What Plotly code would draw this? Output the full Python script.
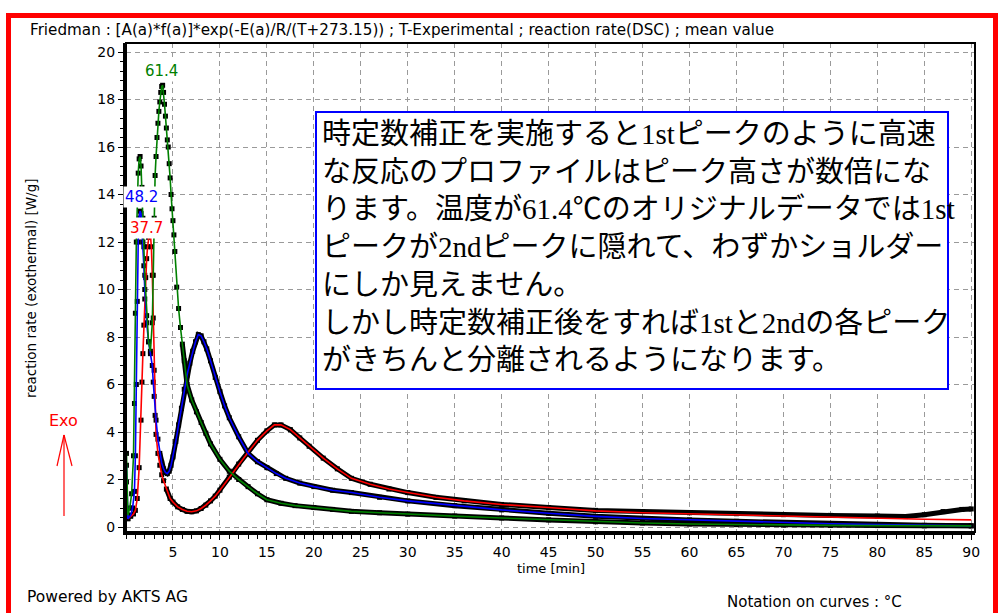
import numpy as np
import plotly.graph_objects as go

# ---------------- data ----------------
t_red = [0.05, 0.2, 0.5, 0.8, 1.0, 1.2, 1.4, 1.6, 1.7, 1.8,
         1.9, 2.0, 2.1, 2.2, 2.3, 2.4, 2.5, 2.6, 2.7, 2.8,
         2.9, 3.0, 3.1, 3.2, 3.4, 3.6, 3.8, 4.0, 4.3, 4.7,
         5.0, 5.5, 6.0, 6.5, 7.0, 7.5, 8.0, 8.5, 9.0, 9.5,
         10, 11, 12, 13, 14, 15, 15.8, 16.5, 17.5, 18.5,
         19.5, 21, 22.5, 24, 26, 28, 30, 33, 36, 40,
         45, 50, 55, 60, 65, 70, 75, 80, 85, 90]
red_v = [1.9, 0.35, 0.45, 0.55, 0.7, 1.2, 2.5, 4.5, 6.1, 7.3,
         8.5, 9.6, 10.5, 11.3, 11.8, 12.2, 12.4, 12.3, 11.8, 10.6,
         8.8, 6.6, 4.7, 3.9, 3.1, 2.6, 2.2, 1.95, 1.6, 1.2,
         1.05, 0.85, 0.74, 0.66, 0.64, 0.68, 0.78, 0.92, 1.1, 1.3,
         1.55, 2.1, 2.65, 3.15, 3.65, 4.05, 4.3, 4.3, 4.1, 3.75,
         3.4, 2.9, 2.45, 2.05, 1.8, 1.6, 1.45, 1.25, 1.1, 0.95,
         0.82, 0.68, 0.6, 0.55, 0.5, 0.45, 0.4, 0.37, 0.33, 0.3]
# experimental tail of the 37.7 °C curve (baseline drift)
red_exp_tail_t = [50, 55, 60, 65, 70, 75, 80, 83, 85, 87, 89, 90]
red_exp_tail_v = [0.7, 0.65, 0.6, 0.56, 0.52, 0.49, 0.46, 0.44, 0.52, 0.65, 0.74, 0.76]

t_blue = [0.05, 0.2, 0.5, 0.7, 0.9, 1.0, 1.1, 1.2, 1.3, 1.4,
          1.5, 1.6, 1.7, 1.8, 1.9, 2.0, 2.2, 2.4, 2.6, 2.8,
          2.9, 3.0, 3.2, 3.4, 3.6, 3.8, 4.0, 4.2, 4.4, 4.6,
          4.8, 5.0, 5.3, 5.6, 5.9, 6.2, 6.5, 6.8, 7.1, 7.4,
          7.7, 8.0, 8.3, 8.6, 9.0, 9.5, 10, 10.5, 11, 12,
          13, 14, 15, 16, 17, 18.5, 20, 22, 24, 27,
          30, 35, 40, 45, 50, 55, 60, 65, 70, 75,
          80, 85, 90]
blue_v = [2.6, 0.35, 0.5, 0.8, 1.5, 3.0, 6.0, 9.5, 12.0, 13.0,
          13.3, 13.2, 12.6, 12.0, 11.0, 10.0, 8.6, 7.8, 7.3, 6.8,
          6.1, 5.5, 4.5, 3.7, 3.1, 2.7, 2.45, 2.3, 2.25, 2.35,
          2.6, 2.95, 3.6, 4.3, 5.0, 5.8, 6.4, 6.9, 7.4, 7.8,
          8.1, 8.05, 7.8, 7.5, 7.0, 6.3, 5.7, 5.1, 4.6, 3.8,
          3.1, 2.75, 2.5, 2.25, 2.05, 1.85, 1.7, 1.55, 1.45, 1.25,
          1.1, 0.9, 0.72, 0.58, 0.45, 0.36, 0.3, 0.24, 0.19, 0.14,
          0.1, 0.07, 0.05]

t_green = [0.05, 0.2, 0.4, 0.6, 0.8, 0.9, 1.0, 1.1, 1.2, 1.3,
           1.4, 1.5, 1.6, 1.7, 1.8, 1.9, 2.0, 2.2, 2.4, 2.6,
           2.8, 2.9, 3.0, 3.1, 3.2, 3.3, 3.4, 3.5, 3.6, 3.7,
           3.8, 3.9, 4.0, 4.1, 4.2, 4.3, 4.4, 4.5, 4.6, 4.7,
           4.8, 4.9, 5.0, 5.1, 5.2, 5.4, 5.6, 5.8, 6.0, 6.2,
           6.5, 7.0, 7.5, 8.0, 8.5, 9.0, 10, 11, 12, 13,
           14, 15, 16.5, 18, 20, 22, 24, 27, 30, 35,
           40, 45, 50, 55, 60, 65, 70, 75, 80, 85,
           90]
green_v = [3.1, 0.5, 0.8, 1.4, 3.0, 5.2, 9.0, 12.0, 13.8, 14.9,
           15.5, 15.6, 15.2, 14.3, 13.0, 11.8, 10.6, 8.9, 7.8, 7.4,
           8.6, 10.6, 13.0, 14.8, 15.6, 16.4, 17.0, 17.5, 17.9, 18.3,
           18.55, 18.6, 18.3, 17.8, 17.3, 16.8, 16.3, 16.0, 15.3, 14.7,
           14.0, 13.4, 12.9, 12.3, 11.6, 10.1, 9.2, 8.4, 7.7, 7.0,
           6.0, 5.35, 4.85, 4.4, 3.95, 3.5, 2.85, 2.35, 2.0, 1.7,
           1.4, 1.15, 1.0, 0.9, 0.82, 0.74, 0.66, 0.6, 0.54, 0.46,
           0.38, 0.3, 0.22, 0.17, 0.13, 0.1, 0.08, 0.07, 0.06, 0.05,
           0.05]

temp_labels = ["37.7", "48.2", "61.4"]
x_tick_vals = list(range(5, 95, 5))
y_tick_vals = list(range(0, 22, 2))

note_lines = [
    "時定数補正を実施すると1stピークのように高速",
    "な反応のプロファイルはピーク高さが数倍にな",
    "ります。温度が61.4℃のオリジナルデータでは1st",
    "ピークが2ndピークに隠れて、わずかショルダー",
    "にしか見えません。",
    "しかし時定数補正後をすれば1stと2ndの各ピーク",
    "がきちんと分離されるようになります。",
]

# ---------------- geometry helpers ----------------
L, R, T, B = 126, 975, 43, 532
W, H = R - L, B - T


def px(x):
    return (x - L) / W


def py(y):
    return (B - y) / H


RED, BLUE, GREEN = "#ff0000", "#0000ff", "#008000"
FONT = "DejaVu Sans"

fig = go.Figure()

# experimental (black) data
red_exp_t = np.concatenate([np.array(t_red)[np.array(t_red) < 50], red_exp_tail_t])
red_exp_v = np.concatenate([np.array(red_v)[np.array(t_red) < 50], red_exp_tail_v])

exp_sets = [
    (red_exp_t, red_exp_v, 4.3),
    (np.array(t_blue), np.array(blue_v), 3.6),
    (np.array(t_green), np.array(green_v), 6.0),
]
for tt, vv, band_start in exp_sets:
    m = tt >= band_start
    fig.add_trace(go.Scatter(x=tt[m], y=vv[m], mode="lines",
                             line=dict(color="black", width=5),
                             hoverinfo="skip", showlegend=False))
    fig.add_trace(go.Scatter(x=tt, y=vv, mode="markers",
                             marker=dict(symbol="square", size=5, color="black"),
                             hoverinfo="skip", showlegend=False))

for tt, vv, col in [(t_red, red_v, RED), (t_blue, blue_v, BLUE), (t_green, green_v, GREEN)]:
    fig.add_trace(go.Scatter(x=tt, y=vv, mode="lines",
                             line=dict(color=col, width=1.6),
                             hoverinfo="skip", showlegend=False))

fig.update_layout(
    width=1000, height=613, autosize=False,
    margin=dict(l=L, r=1000 - R, t=T, b=613 - B),
    paper_bgcolor="white", plot_bgcolor="white",
    font=dict(family=FONT, size=13, color="black"),
    showlegend=False,
)

grid = dict(showgrid=True, gridcolor="#9a9a9a", gridwidth=1, griddash="5px,4px",
            zeroline=False, showline=True, linecolor="black", linewidth=3,
            ticks="outside", ticklen=5, tickcolor="black", tickwidth=1,
            tickfont=dict(family=FONT, size=14, color="black"))

fig.update_xaxes(range=[0, 90.4], tickmode="array", tickvals=x_tick_vals,
                 minor=dict(dtick=1, tick0=0, ticks="outside", ticklen=4,
                            tickcolor="black", showgrid=False),
                 **grid)
fig.update_yaxes(range=[-0.21, 20.38], tickmode="array", tickvals=y_tick_vals,
                 minor=dict(dtick=0.4, tick0=0, ticks="outside", ticklen=3,
                            tickcolor="black", showgrid=False),
                 **grid)

shapes = []
# outer red frame
shapes.append(dict(type="rect", xref="paper", yref="paper",
                   x0=px(8.5), x1=px(995.5), y0=py(640), y1=py(15.5),
                   line=dict(color=RED, width=5), layer="above"))
# plot frame (top / right)
shapes.append(dict(type="rect", xref="paper", yref="paper",
                   x0=0, x1=1, y0=0, y1=1,
                   line=dict(color="black", width=2), layer="above"))
# note box
shapes.append(dict(type="rect", xref="paper", yref="paper",
                   x0=px(316), x1=px(948), y0=py(389), y1=py(112),
                   line=dict(color=BLUE, width=2), fillcolor="white", layer="above"))
# Exo arrow
for (x0, y0, x1, y1) in [(64, 516, 64, 435), (64, 435, 57, 466), (64, 435, 72, 466)]:
    shapes.append(dict(type="line", xref="paper", yref="paper",
                       x0=px(x0), y0=py(y0), x1=px(x1), y1=py(y1),
                       line=dict(color=RED, width=1.2), layer="above"))
fig.update_layout(shapes=shapes)

ann = []
ann.append(dict(xref="paper", yref="paper", x=px(28), y=py(30), xanchor="left", yanchor="middle",
                text="Friedman : [A(a)*f(a)]*exp(-E(a)/R/(T+273.15)) ; T-Experimental ; reaction rate(DSC) ; mean value",
                showarrow=False, font=dict(family=FONT, size=15.2, color="black")))
ann.append(dict(xref="paper", yref="paper", x=px(31), y=py(288), xanchor="center", yanchor="middle",
                text="reaction rate (exothermal) [W/g]", textangle=-90,
                showarrow=False, font=dict(family=FONT, size=13.5, color="black")))
ann.append(dict(xref="paper", yref="paper", x=px(551), y=py(568), xanchor="center", yanchor="middle",
                text="time [min]", showarrow=False, font=dict(family=FONT, size=13, color="black")))
ann.append(dict(xref="paper", yref="paper", x=px(25), y=py(597), xanchor="left", yanchor="middle",
                text="Powered by AKTS AG", showarrow=False, font=dict(family=FONT, size=15.5, color="black")))
ann.append(dict(xref="paper", yref="paper", x=px(725), y=py(602), xanchor="left", yanchor="middle",
                text="Notation on curves : °C", showarrow=False, font=dict(family=FONT, size=15, color="black")))
ann.append(dict(xref="paper", yref="paper", x=px(64), y=py(420), xanchor="center", yanchor="middle",
                text="Exo", showarrow=False, font=dict(family=FONT, size=16, color=RED)))
# temperature labels on curves
for lab, col, xx, yy in [(temp_labels[2], GREEN, 3.8, 19.2),
                         (temp_labels[1], BLUE, 1.7, 13.9),
                         (temp_labels[0], RED, 2.2, 12.6)]:
    ann.append(dict(xref="x", yref="y", x=xx, y=yy, xanchor="center", yanchor="middle",
                    text=lab, showarrow=False, bgcolor="white", borderpad=1,
                    font=dict(family=FONT, size=15, color=col)))
# note text
ann.append(dict(xref="paper", yref="paper", x=px(320), y=py(116), xanchor="left", yanchor="top",
                text="<br>".join(note_lines), align="left", showarrow=False,
                font=dict(family="Liberation Serif, Noto Sans CJK JP", size=29, color="black")))
fig.update_layout(annotations=ann)

fig.write_html("out.html", config={"displayModeBar": False},
               post_script="document.body.style.margin='0';")
